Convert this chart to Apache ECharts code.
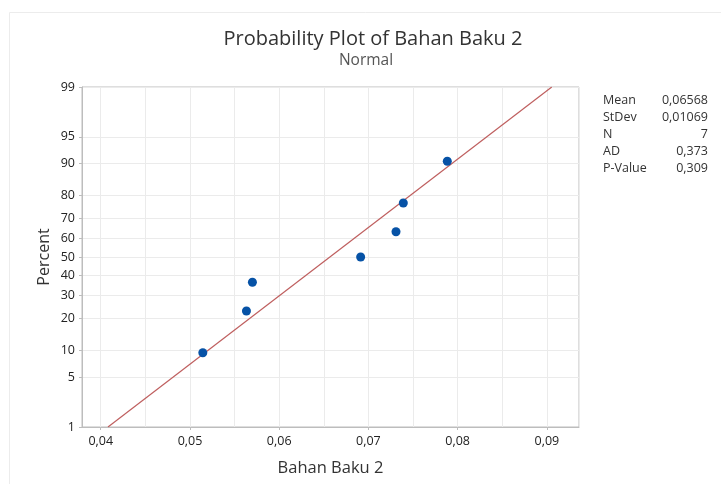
<!DOCTYPE html>
<html>
<head>
<meta charset="utf-8">
<script src="https://cdn.jsdelivr.net/npm/echarts@6/dist/echarts.min.js"></script>
<style>
  html, body { margin: 0; padding: 0; background: #fff; }
  #main { width: 721px; height: 484px; }
</style>
</head>
<body>
<div id="main"></div>
<script>
// data
var values = [0.05144, 0.05633, 0.05700, 0.06913, 0.07309, 0.07391, 0.07884]
var percents = [9.5, 23.0, 36.5, 50.0, 63.5, 77.0, 90.5]

var percentTicks = [1, 5, 10, 20, 30, 40, 50, 60, 70, 80, 90, 95, 99]
var xTicks = [0.04, 0.05, 0.06, 0.07, 0.08, 0.09]

var statNames = ['Mean', 'StDev', 'N', 'AD', 'P-Value']
var statValues = ['0,06568', '0,01069', '7', '0,373', '0,309']
var mean = 0.06568
var stdev = 0.01069

var font = 'Open Sans'

// inverse normal cdf (Acklam)
function probit(p) {
  var a = [-3.969683028665376e+01, 2.209460984245205e+02, -2.759285104469687e+02, 1.383577518672690e+02, -3.066479806614716e+01, 2.506628277459239e+00]
  var b = [-5.447609879822406e+01, 1.615858368580409e+02, -1.556989798598866e+02, 6.680131188771972e+01, -1.328068155288572e+01]
  var c = [-7.784894002430293e-03, -3.223964580411365e-01, -2.400758277161838e+00, -2.549732539343734e+00, 4.374664141464968e+00, 2.938163982698783e+00]
  var d = [7.784695709041462e-03, 3.224671290700398e-01, 2.445134137142996e+00, 3.754408661907416e+00]
  var pl = 0.02425, q, r
  if (p < pl) {
    q = Math.sqrt(-2 * Math.log(p))
    return (((((c[0]*q+c[1])*q+c[2])*q+c[3])*q+c[4])*q+c[5]) / ((((d[0]*q+d[1])*q+d[2])*q+d[3])*q+1)
  }
  if (p > 1 - pl) {
    q = Math.sqrt(-2 * Math.log(1 - p))
    return -(((((c[0]*q+c[1])*q+c[2])*q+c[3])*q+c[4])*q+c[5]) / ((((d[0]*q+d[1])*q+d[2])*q+d[3])*q+1)
  }
  q = p - 0.5
  r = q * q
  return (((((a[0]*r+a[1])*r+a[2])*r+a[3])*r+a[4])*r+a[5])*q / (((((b[0]*r+b[1])*r+b[2])*r+b[3])*r+b[4])*r+1)
}

var zTicks = percentTicks.map(p => probit(p / 100))
var zMin = probit(0.01), zMax = probit(0.99)

var points = values.map((v, i) => [v, probit(percents[i] / 100)])
var fitLine = [[mean + stdev * zMin, zMin], [mean + stdev * zMax, zMax]]

var myChart = echarts.init(document.getElementById('main'))

var statGraphics = []
statNames.forEach(function(name, i) {
  statGraphics.push({
    type: 'text', left: 603, top: 94 + i * 17,
    style: { text: name, font: '12.5px "' + font + '"', fill: '#333' }
  })
  statGraphics.push({
    type: 'text', right: 13, top: 94 + i * 17,
    style: { text: statValues[i], font: '12.5px "' + font + '"', fill: '#333', textAlign: 'right' }
  })
})

var option = {
  animation: false,
  backgroundColor: '#fff',
  textStyle: { fontFamily: font },
  title: [{
    text: 'Probability Plot of Bahan Baku 2',
    left: 368, top: 24, textAlign: 'center',
    textStyle: { fontSize: 20, fontWeight: 'normal', color: '#333', fontFamily: font }
  }, {
    text: 'Normal',
    left: 361, top: 48, textAlign: 'center',
    textStyle: { fontSize: 15.5, fontWeight: 'normal', color: '#555', fontFamily: font }
  }],
  graphic: [{
    type: 'rect', left: 7, top: 10, silent: true,
    shape: { width: 760, height: 520 },
    style: { fill: 'none', stroke: '#ececec', lineWidth: 1 }
  }].concat(statGraphics),
  grid: {
    left: 82, right: 142, top: 87, bottom: 57,
    outerBoundsMode: 'none',
    show: true, borderColor: '#bdbdbd', borderWidth: 1
  },
  xAxis: [{
    type: 'value', min: 0.0379, max: 0.0936, splitNumber: 10,
    name: 'Bahan Baku 2', nameLocation: 'middle', nameGap: 33,
    nameTextStyle: { fontSize: 16.5, color: '#333' },
    axisLine: { onZero: false, lineStyle: { color: '#bdbdbd' } },
    axisTick: { show: false },
    axisLabel: { show: false },
    splitLine: { lineStyle: { color: '#ebebeb' } }
  }, {
    type: 'value', min: 0.0379, max: 0.0936, position: 'bottom',
    axisLine: { show: false, onZero: false },
    axisTick: { show: true, length: 3, customValues: xTicks, lineStyle: { color: '#bdbdbd' } },
    axisLabel: {
      customValues: xTicks, margin: 8, fontSize: 12.5, color: '#222',
      formatter: v => v.toFixed(2).replace('.', ',')
    },
    splitLine: { show: false }
  }],
  yAxis: {
    type: 'value', min: zMin, max: zMax,
    name: 'Percent', nameLocation: 'middle', nameGap: 30, nameMoveOverlap: false,
    nameTextStyle: { fontSize: 16, color: '#333' },
    axisLine: { show: true, onZero: false, lineStyle: { color: '#bdbdbd' } },
    axisTick: { show: true, length: 3, customValues: zTicks, lineStyle: { color: '#bdbdbd' } },
    axisLabel: {
      customValues: zTicks, margin: 7, fontSize: 12.5, color: '#222',
      formatter: function(z) {
        var best = 0
        zTicks.forEach((t, i) => { if (Math.abs(t - z) < Math.abs(zTicks[best] - z)) best = i })
        return String(percentTicks[best])
      }
    },
    splitLine: { show: true, lineStyle: { color: '#ebebeb' } }
  },
  series: [{
    type: 'line', data: fitLine, xAxisIndex: 0, showSymbol: false, symbol: 'none',
    lineStyle: { color: '#bf5f5f', width: 1.2 }, z: 2
  }, {
    type: 'scatter', data: points, xAxisIndex: 0, symbolSize: 9,
    itemStyle: { color: '#0652a6', opacity: 1 }, z: 3
  }]
}

myChart.setOption(option)
</script>
</body>
</html>
